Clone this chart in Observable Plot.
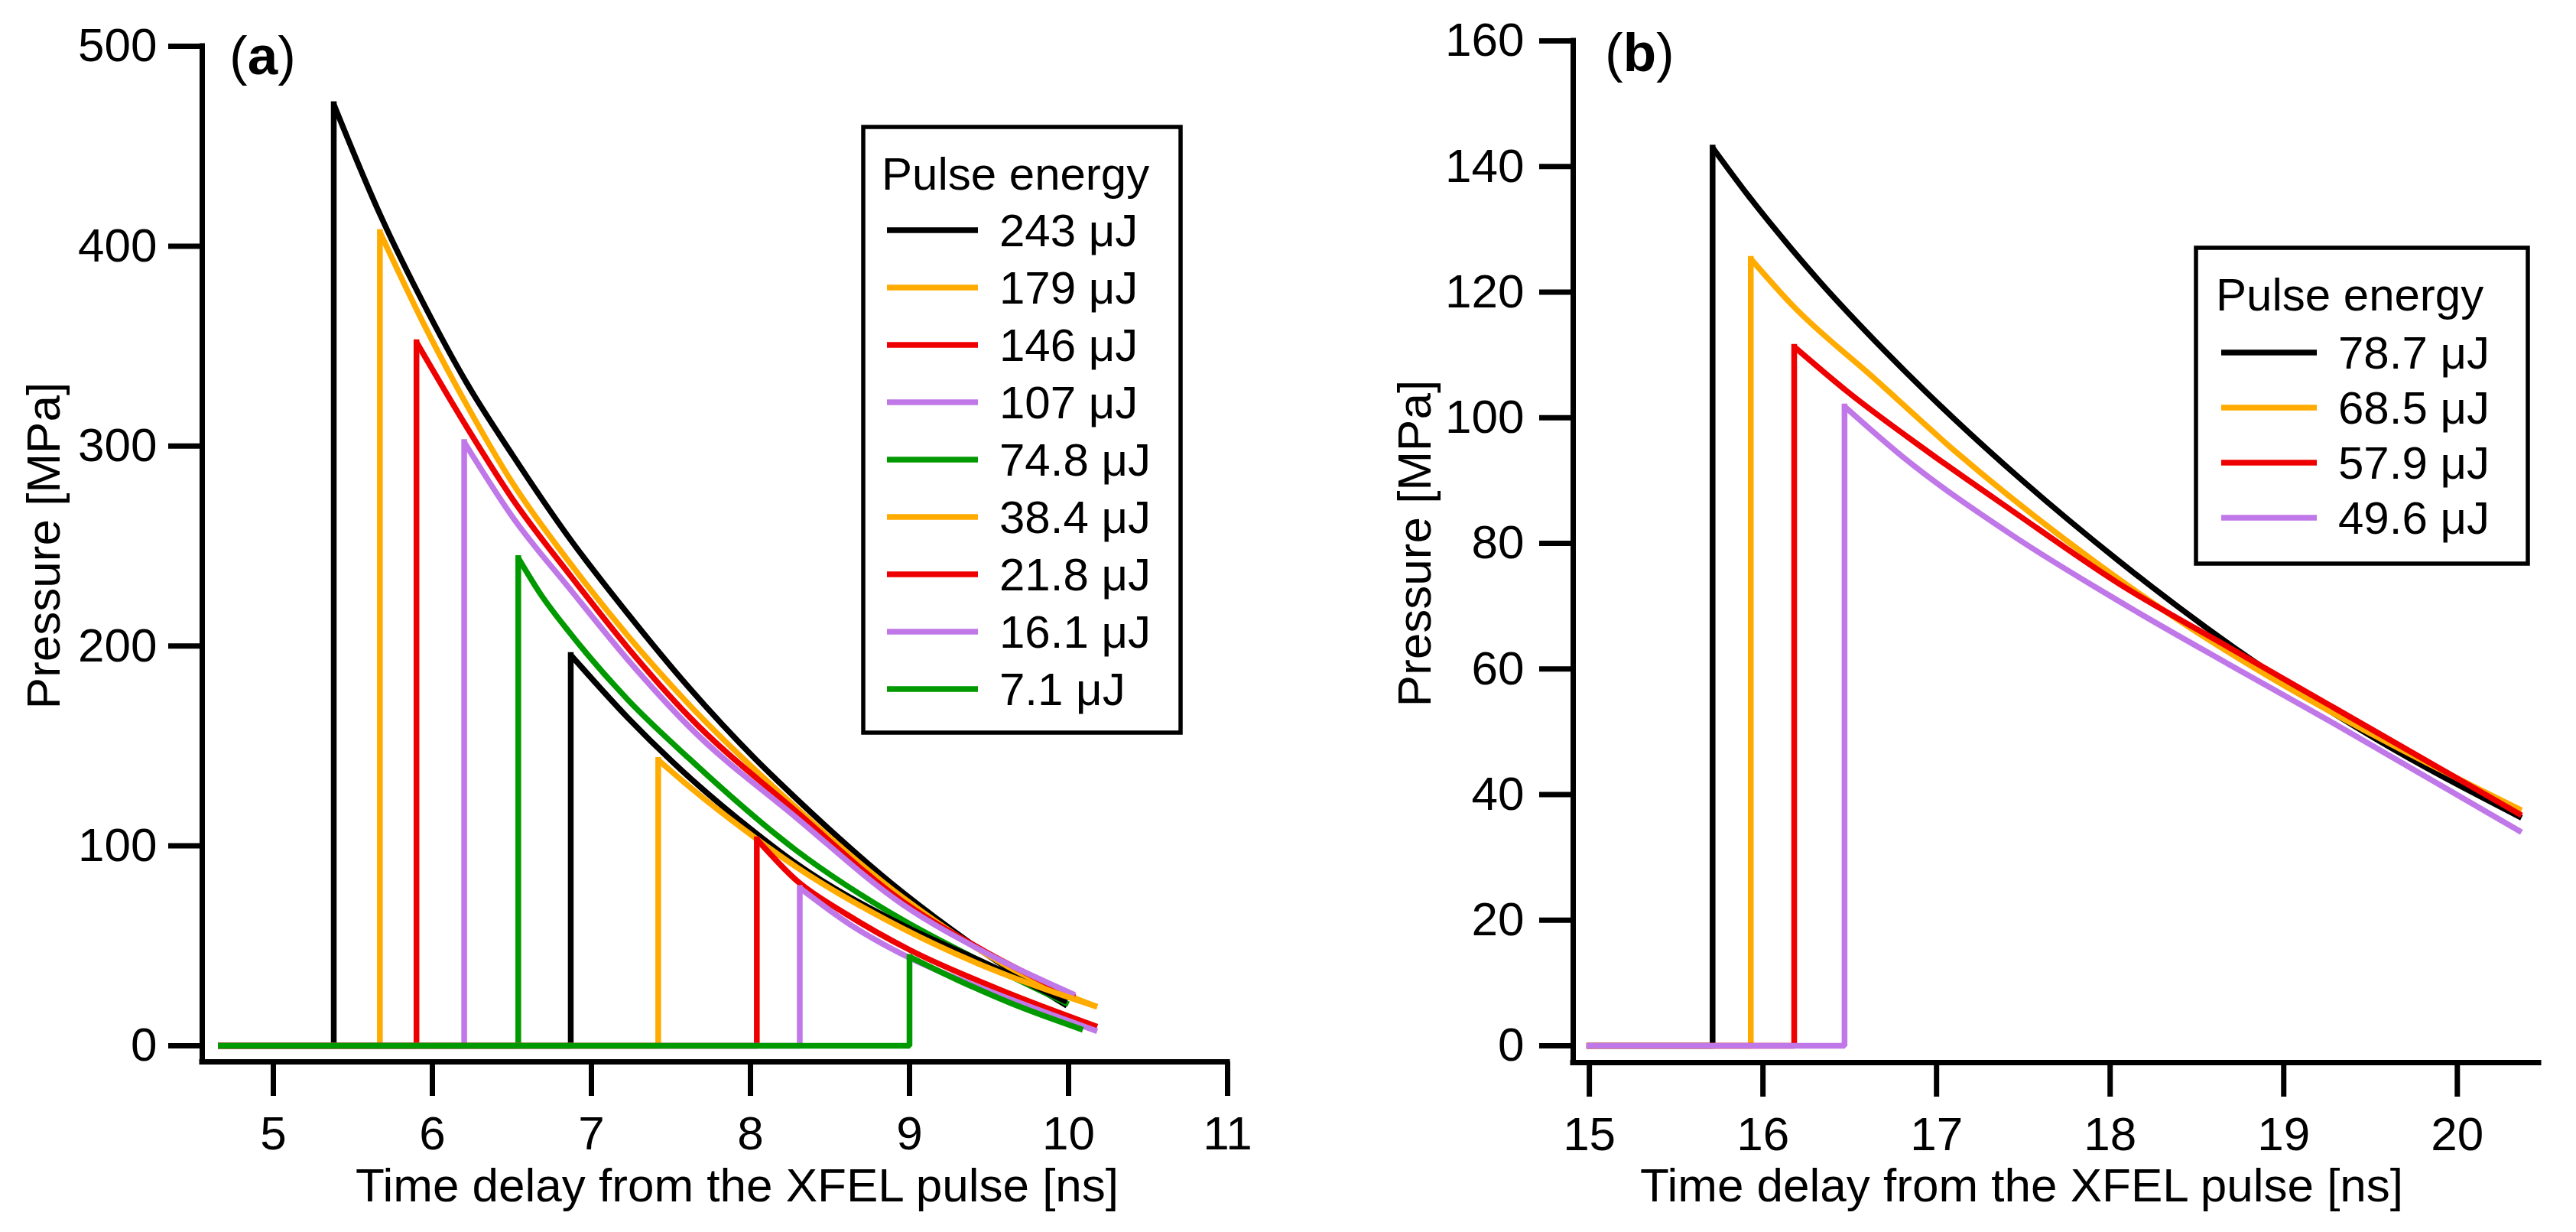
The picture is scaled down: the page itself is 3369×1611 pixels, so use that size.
<!DOCTYPE html>
<html>
<head>
<meta charset="utf-8">
<script src="https://cdn.jsdelivr.net/npm/d3@7"></script>
<script src="https://cdn.jsdelivr.net/npm/@observablehq/plot@0.6"></script>
<style>
  html, body { margin: 0; padding: 0; background: #fff; }
  #wrap { position: relative; width: 3369px; height: 1611px; overflow: hidden; background: #fff;
          font-family: "Liberation Sans", Arial, sans-serif; }
  .panel { position: absolute; top: 0; }
  #overlay { position: absolute; left: 0; top: 0; pointer-events: none; }
</style>
</head>
<body>
<div id="wrap">
  <div id="panelA" class="panel" style="left:0px"></div>
  <div id="panelB" class="panel" style="left:1700px"></div>
</div>
<script>
// ---------------- data : panel (a) ----------------
const xTicksA = [5, 6, 7, 8, 9, 10, 11];
const yTicksA = [0, 100, 200, 300, 400, 500];
const xDomainA = [4.553, 11];
const yDomainA = [-8.03, 500];
const baseStartA = 4.67;

const seriesA = ["243 μJ", "179 μJ", "146 μJ", "107 μJ", "74.8 μJ", "(no legend entry)", "38.4 μJ", "21.8 μJ", "16.1 μJ", "7.1 μJ"];
const colorsA = ["#000000", "#ffab00", "#ee0000", "#c078e8", "#009a00", "#000000", "#ffab00", "#ee0000", "#c078e8", "#009a00"];

const a243T = [5.38, 5.67, 5.94, 6.22, 6.50, 6.87, 7.23, 7.61, 8.03, 8.29, 8.96, 9.48, 9.99];
const a243P = [471, 416, 372, 331, 296, 253, 216, 179.5, 143.5, 123.5, 76.5, 46, 20];
const a179T = [5.67, 5.94, 6.22, 6.50, 6.87, 7.23, 7.61, 8.29, 8.96, 9.48, 9.80, 10.18];
const a179P = [407, 362, 320, 282, 241, 205, 171, 119, 74, 46, 32, 19.5];
const a146T = [5.90, 6.22, 6.50, 6.87, 7.23, 7.61, 8.29, 8.96, 9.48, 10.04];
const a146P = [352, 309, 274, 235, 199, 165, 117, 72, 47, 24.3];
const a107T = [6.20, 6.50, 6.87, 7.23, 7.61, 8.29, 8.96, 9.48, 10.04];
const a107P = [302, 265, 228, 193, 160, 114, 70.5, 46.5, 25.4];
const a74T = [6.54, 6.68, 6.87, 7.23, 7.61, 8.29, 8.96, 9.48, 10.00];
const a74P = [244, 226, 206, 173, 144, 97.6, 62.8, 41, 20.8];
const aBlk2T = [6.87, 7.23, 7.51, 8.04, 8.29, 8.96, 9.48, 9.99];
const aBlk2P = [195.5, 164, 142, 106, 91, 60.2, 41.3, 22];
const a38T = [7.42, 7.61, 8.04, 8.29, 8.96, 9.48, 10.18];
const a38P = [143, 130, 103.4, 89.4, 58.6, 39.5, 19.5];
const a21T = [8.04, 8.29, 8.60, 9.00, 9.58, 10.18];
const a21P = [103.3, 82.7, 66, 48, 27.7, 9.6];
const a16T = [8.31, 8.62, 9.00, 9.48, 10.18];
const a16P = [79, 61, 44, 28, 7.3];
const a7T = [9.00, 9.30, 9.64, 10.09];
const a7P = [44.5, 33, 21.2, 8.0];
const decayA = [[a243T, a243P], [a179T, a179P], [a146T, a146P], [a107T, a107P], [a74T, a74P],
                [aBlk2T, aBlk2P], [a38T, a38P], [a21T, a21P], [a16T, a16P], [a7T, a7P]];

const legendA = ["243 μJ", "179 μJ", "146 μJ", "107 μJ", "74.8 μJ", "38.4 μJ", "21.8 μJ", "16.1 μJ", "7.1 μJ"];
const legendColorsA = ["#000000", "#ffab00", "#ee0000", "#c078e8", "#009a00", "#ffab00", "#ee0000", "#c078e8", "#009a00"];

// ---------------- data : panel (b) ----------------
const xTicksB = [15, 16, 17, 18, 19, 20];
const yTicksB = [0, 20, 40, 60, 80, 100, 120, 140, 160];
const xDomainB = [14.907, 20.47];
const yDomainB = [-2.68, 160];
const baseStartB = 15.0;

const seriesB = ["78.7 μJ", "68.5 μJ", "57.9 μJ", "49.6 μJ"];
const colorsB = ["#000000", "#ffab00", "#ee0000", "#c078e8"];
const b78T = [15.71, 15.92, 16.17, 16.32, 16.70, 17.11, 17.49, 18.05, 18.87, 19.54, 20.37];
const b78P = [143, 135.2, 126.7, 121.9, 110.7, 99.6, 90.1, 77.2, 60.4, 48.7, 36.3];
const b68T = [15.93, 16.17, 16.64, 17.11, 17.74, 18.37, 19.00, 19.57, 20.37];
const b68P = [125.3, 117.9, 106.3, 94.6, 80.6, 68.2, 57.4, 48.7, 37.5];
const b57T = [16.18, 16.48, 16.95, 17.43, 18.05, 18.68, 19.31, 20.37];
const b57P = [111.3, 104.3, 94.6, 85.3, 73.6, 63.5, 53.5, 36.7];
const b49T = [16.47, 16.80, 17.43, 18.05, 18.68, 19.31, 20.37];
const b49P = [101.8, 93.9, 81.4, 70.8, 60.8, 51.0, 34.0];
const decayB = [[b78T, b78P], [b68T, b68P], [b57T, b57P], [b49T, b49P]];

const xLabel = "Time delay from the XFEL pulse [ns]";
const yLabel = "Pressure [MPa]";

// ---------------- drawing ----------------
const FONT = '"Liberation Sans", Arial, sans-serif';
const LW = 7.5;
const AXW = 7;
const FS = 62;

function seriesMarks(names, colors, decay, baseStart) {
  const marks = [];
  names.forEach((name, i) => {
    const [T, P] = decay[i];
    const step = [
      {s: name, t: baseStart, p: 0},
      {s: name, t: T[0], p: 0},
      {s: name, t: T[0], p: P[0]}
    ];
    const rows = T.map((t, j) => ({s: name, t, p: P[j]}));
    marks.push(Plot.line(step, {x: "t", y: "p", stroke: colors[i], strokeWidth: LW,
      curve: "linear", strokeLinejoin: "miter", strokeLinecap: "square"}));
    marks.push(Plot.line(rows, {x: "t", y: "p", stroke: colors[i], strokeWidth: LW,
      curve: "monotone-x", strokeLinejoin: "round", strokeLinecap: "butt"}));
  });
  return marks;
}

function panel(opts) {
  return Plot.plot({
    width: opts.width, height: 1611,
    marginLeft: opts.ml, marginRight: opts.mr, marginTop: opts.mt, marginBottom: opts.mb,
    style: {fontFamily: FONT, background: "white", color: "black", overflow: "visible"},
    x: {domain: opts.xDomain},
    y: {domain: opts.yDomain},
    marks: [
      ...seriesMarks(opts.names, opts.colors, opts.decay, opts.baseStart),
      Plot.ruleX([opts.xDomain[0]], {stroke: "black", strokeWidth: AXW, strokeLinecap: "square"}),
      Plot.ruleY([opts.yDomain[0]], {stroke: "black", strokeWidth: AXW, strokeLinecap: "square"}),
      Plot.axisX({ticks: opts.xTicks, tickSize: 45, tickPadding: 25, fontSize: FS,
                  strokeWidth: AXW, label: null, tickFormat: d => String(d)}),
      Plot.axisY({ticks: opts.yTicks, tickSize: 44, tickPadding: opts.ypad, fontSize: FS,
                  strokeWidth: AXW, label: null, tickFormat: d => String(d)}),
      Plot.text([xLabel], {text: d => d, frameAnchor: "bottom", textAnchor: "middle", lineAnchor: "middle",
                  dy: opts.xlDy, dx: opts.xlDx, fontSize: FS, fill: "black"}),
      Plot.text([yLabel], {text: d => d, frameAnchor: "left", textAnchor: "middle", lineAnchor: "middle",
                  rotate: -90, dx: -206, dy: -11, fontSize: FS, fill: "black"})
    ]
  });
}

document.getElementById("panelA").appendChild(panel({
  width: 1700, ml: 264, mr: 95, mt: 60, mb: 223,
  xDomain: xDomainA, yDomain: yDomainA, xTicks: xTicksA, yTicks: yTicksA, ypad: 15,
  names: seriesA, colors: colorsA, decay: decayA, baseStart: baseStartA,
  xlDy: 163, xlDx: 29
}));

document.getElementById("panelB").appendChild(panel({
  width: 1669, ml: 357, mr: 49, mt: 53, mb: 222,
  xDomain: xDomainB, yDomain: yDomainB, xTicks: xTicksB, yTicks: yTicksB, ypad: 20,
  names: seriesB, colors: colorsB, decay: decayB, baseStart: baseStartB,
  xlDy: 162, xlDx: -45
}));

// ---------------- overlay: panel letters and legends ----------------
const svg = d3.select("#wrap").append("svg")
  .attr("id", "overlay").attr("width", 3369).attr("height", 1611)
  .style("font-family", FONT);

function panelLetter(x, y, letter) {
  const t = svg.append("text").attr("x", x).attr("y", y).attr("font-size", 71).attr("fill", "black");
  t.append("tspan").text("(");
  t.append("tspan").attr("font-weight", "bold").text(letter);
  t.append("tspan").text(")");
}
panelLetter(300, 97, "a");
panelLetter(2099, 93, "b");

function legend(box, titleX, titleY, rowY0, rowStep, lineX0, lineX1, labelX, labels, colors) {
  const g = svg.append("g");
  g.append("rect").attr("x", box[0]).attr("y", box[1]).attr("width", box[2]).attr("height", box[3])
    .attr("fill", "white").attr("stroke", "black").attr("stroke-width", 5.5);
  g.append("text").attr("x", titleX).attr("y", titleY).attr("font-size", 60).attr("fill", "black")
    .text("Pulse energy");
  labels.forEach((lab, i) => {
    const cy = rowY0 + i * rowStep;
    g.append("line").attr("x1", lineX0).attr("x2", lineX1).attr("y1", cy).attr("y2", cy)
      .attr("stroke", colors[i]).attr("stroke-width", 7.5);
    g.append("text").attr("x", labelX).attr("y", cy + 21).attr("font-size", 60).attr("fill", "black")
      .text(lab);
  });
}
legend([1129, 166, 415, 792], 1153, 248, 301, 75, 1160, 1279, 1307, legendA, legendColorsA);
legend([2872, 324, 434, 413], 2898, 406, 461, 72, 2905, 3030, 3058, seriesB, colorsB);
</script>
</body>
</html>
